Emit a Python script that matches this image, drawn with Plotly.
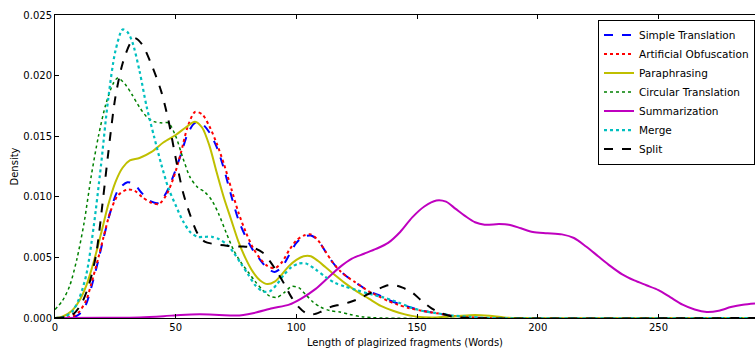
import plotly.graph_objects as go

# ---- data ----
simple_x = [0, 5, 8, 10, 13, 15, 18, 20, 23, 26, 30, 33, 36, 40, 43, 46, 49, 52, 55, 58, 61, 64, 67, 70, 73, 76, 79, 82, 85, 88, 91, 94, 97, 100, 103, 106, 109, 112, 115, 118, 121, 124, 127, 130, 134, 138, 142, 147, 152, 158, 164, 170, 178, 290]
simple_y = [0, 0.0000, 0.0001, 0.0003, 0.0012, 0.0025, 0.0048, 0.0065, 0.0088, 0.0105, 0.0112, 0.0110, 0.0103, 0.0096, 0.0095, 0.0103, 0.0117, 0.0134, 0.0152, 0.0161, 0.0160, 0.0153, 0.0141, 0.0123, 0.0101, 0.0081, 0.0067, 0.0056, 0.0048, 0.0041, 0.0038, 0.0042, 0.0052, 0.0062, 0.0067, 0.0068, 0.0064, 0.0055, 0.0046, 0.0039, 0.0034, 0.0030, 0.0026, 0.0022, 0.0019, 0.0015, 0.0012, 0.0009, 0.0006, 0.0004, 0.0002, 0.0001, 0, 0]

artif_x = simple_x
artif_y = [0, 0.00005, 0.0002, 0.0005, 0.0015, 0.0028, 0.0050, 0.0066, 0.0088, 0.0101, 0.0106, 0.0105, 0.0100, 0.0095, 0.0094, 0.0101, 0.0115, 0.0135, 0.0158, 0.0170, 0.0168, 0.0158, 0.0144, 0.0127, 0.0107, 0.0087, 0.0071, 0.0058, 0.0049, 0.0043, 0.0041, 0.0046, 0.0056, 0.0064, 0.0068, 0.0069, 0.0064, 0.0055, 0.0046, 0.0039, 0.0034, 0.0030, 0.0026, 0.0022, 0.0018, 0.0014, 0.0011, 0.0008, 0.0006, 0.0004, 0.0002, 0.0001, 0, 0]

para_x = [0, 3, 7, 10, 13, 16, 19, 22, 25, 28, 31, 35, 40, 45, 50, 54, 58, 61, 64, 67, 70, 73, 76, 79, 82, 85, 88, 91, 94, 97, 100, 103, 106, 109, 112, 115, 120, 125, 130, 135, 140, 145, 150, 158, 166, 174, 180, 186, 192, 290]
para_y = [0, 0.0001, 0.0006, 0.0014, 0.0027, 0.0046, 0.0069, 0.0093, 0.0112, 0.0124, 0.0130, 0.0132, 0.0137, 0.0145, 0.0151, 0.0157, 0.0162, 0.0157, 0.0142, 0.0120, 0.0099, 0.0081, 0.0063, 0.0049, 0.0038, 0.0031, 0.0028, 0.0030, 0.0036, 0.0043, 0.0048, 0.0051, 0.0051, 0.0047, 0.0042, 0.0037, 0.0029, 0.0022, 0.0016, 0.0010, 0.0006, 0.0003, 0.0001, 0.00005, 0.00015, 0.00025, 0.00018, 0.00005, 0, 0]

circ_x = [0, 3, 6, 9, 12, 15, 18, 21, 24, 26, 29, 32, 35, 38, 41, 44, 47, 50, 53, 56, 59, 62, 65, 68, 71, 74, 77, 80, 83, 86, 89, 92, 95, 98, 101, 104, 107, 110, 114, 118, 122, 127, 135, 290]
circ_y = [0.0007, 0.0014, 0.0026, 0.0048, 0.0078, 0.0117, 0.0150, 0.0176, 0.0193, 0.0198, 0.0193, 0.0184, 0.0174, 0.0166, 0.0162, 0.0161, 0.0161, 0.0150, 0.0132, 0.0116, 0.0108, 0.0104, 0.0097, 0.0085, 0.0070, 0.0056, 0.0046, 0.0038, 0.0030, 0.0023, 0.0018, 0.0017, 0.0021, 0.0026, 0.0025, 0.0019, 0.0013, 0.0009, 0.0006, 0.0005, 0.0003, 0.0001, 0, 0]

summ_x = [0, 20, 35, 45, 52, 60, 68, 75, 82, 90, 97, 102, 108, 113, 118, 123, 128, 133, 138, 143, 148, 153, 158, 162, 166, 170, 174, 178, 184, 188, 193, 198, 204, 210, 215, 220, 225, 230, 235, 240, 245, 250, 255, 260, 265, 270, 275, 280, 285, 290]
summ_y = [0, 0.00002, 0.00005, 0.00015, 0.00025, 0.0003, 0.00025, 0.0002, 0.0004, 0.0008, 0.0011, 0.0016, 0.0024, 0.0033, 0.0042, 0.0049, 0.0053, 0.0057, 0.0062, 0.0071, 0.0083, 0.0092, 0.0097, 0.0096, 0.0090, 0.0084, 0.0079, 0.0077, 0.00775, 0.0077, 0.0074, 0.0071, 0.0070, 0.0069, 0.0066, 0.0059, 0.0051, 0.0043, 0.0036, 0.0031, 0.0027, 0.0023, 0.0017, 0.0011, 0.0007, 0.0005, 0.0006, 0.0009, 0.0011, 0.0012]

merge_x = [0, 4, 7, 10, 13, 16, 19, 22, 25, 28, 30, 32, 35, 38, 41, 44, 47, 50, 53, 56, 59, 62, 65, 68, 71, 74, 77, 80, 83, 86, 89, 92, 95, 98, 101, 104, 108, 112, 116, 120, 125, 130, 136, 142, 147, 152, 158, 165, 172, 180, 290]
merge_y = [0, 0.0001, 0.0005, 0.0016, 0.0036, 0.0075, 0.0125, 0.0180, 0.0220, 0.0238, 0.0236, 0.0228, 0.0204, 0.0174, 0.0150, 0.0127, 0.0107, 0.0093, 0.0080, 0.0071, 0.0067, 0.0067, 0.0067, 0.0065, 0.0061, 0.0054, 0.0045, 0.0036, 0.0027, 0.0022, 0.0022, 0.0028, 0.0036, 0.0042, 0.0045, 0.0045, 0.0040, 0.0034, 0.0029, 0.0026, 0.0023, 0.0020, 0.0017, 0.0013, 0.0009, 0.0006, 0.0004, 0.0002, 0.0001, 0, 0]

split_x = [0, 5, 8, 11, 14, 17, 20, 22, 25, 28, 31, 33, 36, 40, 44, 47, 50, 53, 56, 59, 62, 66, 70, 74, 78, 82, 86, 89, 92, 95, 98, 101, 104, 107, 110, 114, 118, 122, 126, 130, 134, 138, 141, 144, 148, 152, 156, 160, 165, 172, 290]
split_y = [0, 0.0001, 0.0004, 0.0012, 0.0027, 0.0052, 0.0100, 0.0135, 0.0182, 0.0210, 0.0226, 0.0231, 0.0226, 0.0209, 0.0187, 0.0163, 0.0132, 0.0104, 0.0085, 0.0070, 0.0063, 0.0061, 0.0060, 0.0059, 0.0059, 0.0058, 0.0054, 0.0047, 0.0038, 0.0028, 0.0017, 0.0009, 0.0004, 0.0003, 0.0005, 0.0009, 0.0011, 0.0013, 0.0016, 0.0020, 0.0024, 0.0027, 0.0027, 0.0025, 0.0021, 0.0014, 0.0008, 0.0004, 0.0001, 0, 0]

x_ticks = [0, 50, 100, 150, 200, 250]
y_ticks = [0.000, 0.005, 0.010, 0.015, 0.020, 0.025]

series = [
    ("Simple Translation", simple_x, simple_y, "#0000ff", "dash", 2),
    ("Artificial Obfuscation", artif_x, artif_y, "#ff0000", "dot", 2),
    ("Paraphrasing", para_x, para_y, "#bfbf00", "solid", 2),
    ("Circular Translation", circ_x, circ_y, "#008000", "dot", 1.5),
    ("Summarization", summ_x, summ_y, "#bf00bf", "solid", 2),
    ("Merge", merge_x, merge_y, "#00bfbf", "dot", 2.2),
    ("Split", split_x, split_y, "#000000", "dash", 2),
]

fig = go.Figure()
for name, xs, ys, col, dash, w in series:
    fig.add_trace(go.Scatter(
        x=xs, y=ys, mode="lines", name=name,
        line=dict(color=col, dash=dash, width=w, shape="spline", smoothing=0.8),
    ))

font = dict(family="DejaVu Sans", size=10, color="#000000")
fig.update_layout(
    width=755, height=349,
    margin=dict(l=55, r=0, t=15, b=31, autoexpand=False),
    paper_bgcolor="white", plot_bgcolor="white",
    font=font,
    showlegend=True,
    legend=dict(
        x=1.0, xanchor="right", y=0.985, yanchor="top",
        bordercolor="#000000", borderwidth=1, bgcolor="white",
        font=dict(family="DejaVu Sans", size=10.5, color="#000000"),
        itemwidth=30, tracegroupgap=0,
    ),
)
fig.update_xaxes(
    range=[0, 290], tickvals=x_ticks, ticktext=[str(v) for v in x_ticks],
    showgrid=False, zeroline=False, showline=True, linecolor="#000000", linewidth=1,
    mirror="ticks", ticks="inside", ticklen=4, tickcolor="#000000", automargin=False,
    title=dict(text="Length of plagirized fragments (Words)", font=dict(size=10), standoff=6),
)
fig.update_yaxes(
    range=[0, 0.025], tickvals=y_ticks, tickformat=".3f", automargin=True,
    showgrid=False, zeroline=False, showline=True, linecolor="#000000", linewidth=1,
    ticks="inside", ticklen=4, tickcolor="#000000",
    title=dict(text="Density", font=dict(size=10), standoff=2),
)

fig.write_html(
    "out.html",
    config={"displayModeBar": False},
    post_script="document.body.style.margin='0px';document.body.style.overflow='hidden';",
)
